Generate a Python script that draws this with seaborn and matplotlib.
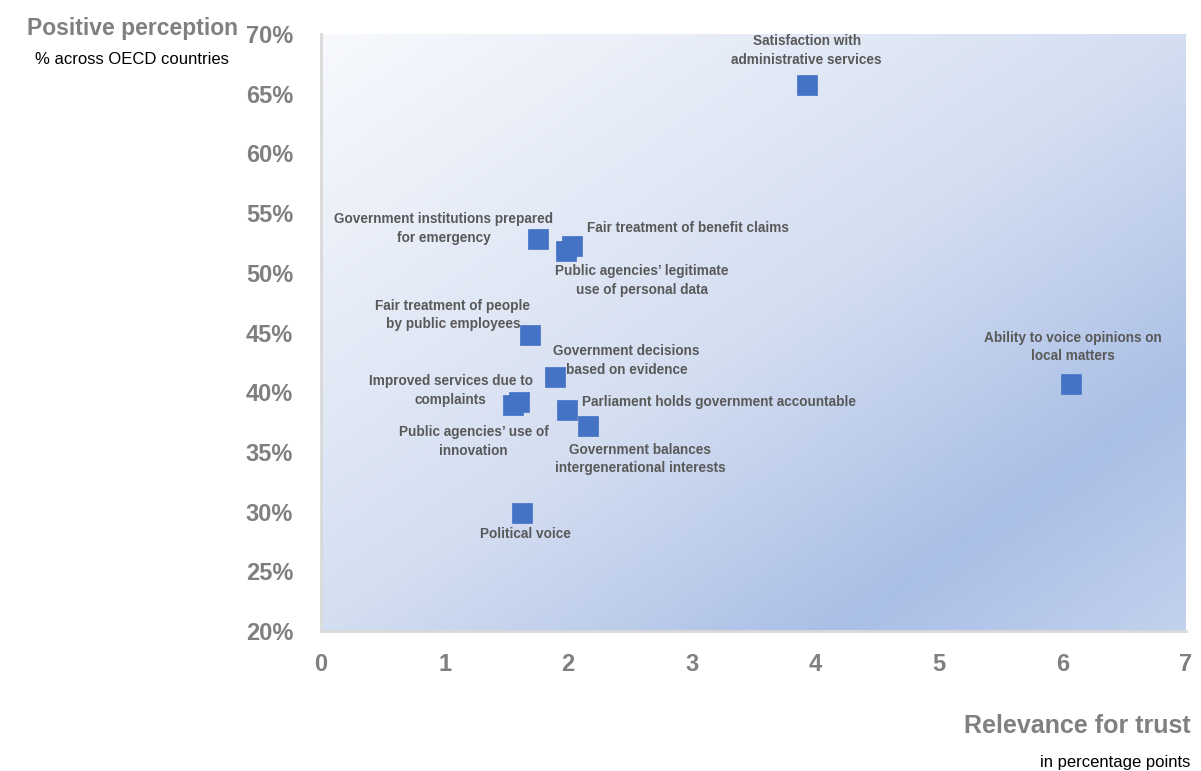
import numpy as np
import pandas as pd
import matplotlib
matplotlib.use("Agg")
import matplotlib.pyplot as plt
from matplotlib.colors import LinearSegmentedColormap
import seaborn as sns

# Drivers of trust: relevance (pp) vs. share with positive perception (%)
drivers = [
    "Satisfaction with\nadministrative services",
    "Ability to voice opinions on\nlocal matters",
    "Government institutions prepared\nfor emergency",
    "Fair treatment of benefit claims",
    "Public agencies’ legitimate\nuse of personal data",
    "Fair treatment of people\nby public employees",
    "Government decisions\nbased on evidence",
    "Improved services due to\ncomplaints",
    "Public agencies’ use of\ninnovation",
    "Parliament holds government accountable",
    "Government balances\nintergenerational interests",
    "Political voice",
]
relevance = [3.93, 6.07, 1.76, 2.03, 1.98, 1.69, 1.89, 1.60, 1.55, 1.99, 2.16, 1.63]
perception = [65.7, 40.7, 52.8, 52.25, 51.8, 44.8, 41.3, 39.15, 38.9, 38.5, 37.15, 29.9]

# label placement: offset in pixels from the marker, horizontal alignment
label_offsets = [
    ((0, 35), "center"),
    ((2, 37), "center"),
    ((-95, 11), "center"),
    ((15, 18), "left"),
    ((76, -29), "center"),
    ((-77, 20), "center"),
    ((72, 16), "center"),
    ((-68, 12), "center"),
    ((-39, -36), "center"),
    ((15, 8), "left"),
    ((52, -33), "center"),
    ((3, -21), "center"),
]

x_ticks = [0, 1, 2, 3, 4, 5, 6, 7]
y_ticks = [20, 25, 30, 35, 40, 45, 50, 55, 60, 65, 70]

df = pd.DataFrame({"driver": drivers, "relevance": relevance, "perception": perception})

sns.set_theme(style="white")
plt.rcParams["font.family"] = ["Liberation Sans", "DejaVu Sans"]

fig = plt.figure(figsize=(12.01, 7.71), dpi=100)
ax = fig.add_axes([321 / 1201, 1 - 631 / 771, (1186 - 321) / 1201, (631 - 34) / 771])

# diagonal gradient fill of the plot area (light top-left, deep blue toward bottom-right)
u = np.linspace(0, 1, 400)
v = np.linspace(0, 1, 300)
U, V = np.meshgrid(u, v)
T = (U + V) / 2
grad = LinearSegmentedColormap.from_list(
    "area",
    [(0.0, "#f7f9fd"), (0.5, "#d4def1"), (0.8, "#aabfe6"), (1.0, "#c2d1ee")],
)
ax.imshow(T, cmap=grad, vmin=0, vmax=1, extent=[0, 7, 20, 70], origin="upper",
          aspect="auto", zorder=0, interpolation="bilinear")

sns.scatterplot(data=df, x="relevance", y="perception", ax=ax, marker="s",
                s=215, color="#4472c4", edgecolor="#4472c4", linewidth=0.5,
                zorder=3, legend=False)

for name, xv, yv, (off, ha) in zip(drivers, relevance, perception, label_offsets):
    ax.annotate(name, (xv, yv), xytext=off, textcoords="offset pixels",
                ha=ha, va="center", fontsize=9.8, fontweight="bold",
                color="#595959", linespacing=1.4, zorder=4)

ax.set_xlim(0, 7)
ax.set_ylim(20, 70)
ax.set_xticks(x_ticks)
ax.set_yticks(y_ticks)
ax.set_yticklabels([f"{t}%" for t in y_ticks])
ax.tick_params(axis="both", length=0, labelsize=17, labelcolor="#7f7f7f")
ax.tick_params(axis="x", pad=16)
ax.tick_params(axis="y", pad=20)
for lab in ax.get_xticklabels() + ax.get_yticklabels():
    lab.set_fontweight("bold")
ax.set_xlabel("")
ax.set_ylabel("")

for side in ["top", "right"]:
    ax.spines[side].set_visible(False)
for side in ["left", "bottom"]:
    ax.spines[side].set_color("#d9d9d9")
    ax.spines[side].set_linewidth(2)

fig.text(238 / 1201, 1 - 28 / 771, "Positive perception", ha="right", va="center",
         fontsize=16.5, fontweight="bold", color="#808080")
fig.text(229 / 1201, 1 - 59 / 771, "% across OECD countries", ha="right", va="center",
         fontsize=12, color="#000000")
fig.text(1191 / 1201, 1 - 726 / 771, "Relevance for trust", ha="right", va="center",
         fontsize=18, fontweight="bold", color="#808080")
fig.text(1190 / 1201, 1 - 762 / 771, "in percentage points", ha="right", va="center",
         fontsize=12, color="#000000")

fig.savefig("out.png", dpi=100)
